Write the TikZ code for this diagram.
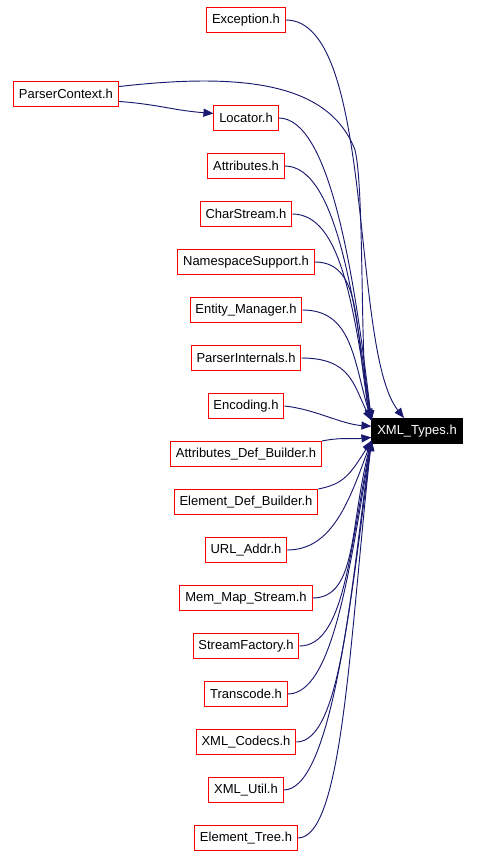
\documentclass[tikz,border=0pt]{standalone}
\usepackage{fontspec}
\setmainfont{Liberation Sans}
\usetikzlibrary{positioning,arrows.meta}
\definecolor{edgeblue}{HTML}{191970}
\tikzset{
  filebox/.style={draw=red, line width=0.75pt, fill=white, inner xsep=4pt, minimum height=18.75pt, font=\fontsize{9.75}{11}\selectfont},
  mainbox/.style={filebox, draw=black, fill=black, text=white},
  incl/.style={draw=edgeblue, line width=0.7pt, -{Triangle[length=7.5pt,width=6pt]}}
}

\begin{document}
\begin{tikzpicture}[x=0.75pt, y=-0.75pt, node distance=16.5pt]
  \useasboundingbox (0,0) rectangle (480,856);
  % left column
  \node[filebox] (exc) at (246,20) {Exception.h};
  \node[filebox, below=54pt of exc] (loc) {Locator.h};
  \node[filebox, left=71pt of loc, yshift=18pt] (pc) {ParserContext.h};
  \foreach \n/\p/\t in {att/loc/Attributes.h, cs/att/CharStream.h, ns/cs/NamespaceSupport.h,
      em/ns/Entity\_Manager.h, pi/em/ParserInternals.h, enc/pi/Encoding.h,
      adb/enc/Attributes\_Def\_Builder.h, edb/adb/Element\_Def\_Builder.h, url/edb/URL\_Addr.h,
      mms/url/Mem\_Map\_Stream.h, sf/mms/StreamFactory.h, tc/sf/Transcode.h,
      xc/tc/XML\_Codecs.h, xu/xc/XML\_Util.h, et/xu/Element\_Tree.h}
    \node[filebox, below=of \p] (\n) {\t};
  % the included header
  \node[mainbox] (xt) at (417,431) {XML\_Types.h};

  % edges
  \draw[incl] (pc.-8) .. controls +(40,3) and +(-40,-3) .. (loc.172);
  \draw[incl] (exc.east) .. controls +(90,0) and +(-54,-68) .. (xt.135);
  \draw[incl] (pc.8) .. controls +(130,-15) and +(-25,-65) .. (355,150)
                     .. controls +(10,40) and +(-12,-40) .. (xt.165);
  \foreach \n/\k in {loc/155, att/130, cs/110, ns/85, em/60, pi/35}
    \draw[incl] (\n.east) .. controls +(50,0) and +(-18,-\k) .. (xt.167);
  \draw[incl] (enc.east) .. controls +(30,3) and +(-30,-2) .. (xt.174);
  \draw[incl] (adb.north east) .. controls +(20,-4) and +(-20,2) .. (xt.188);
  \draw[incl] (edb.north east) .. controls +(25,-5) and +(-22,35) .. (xt.192);
  \foreach \n/\k in {url/60, mms/85, sf/110, tc/130, xc/155, xu/180, et/200}
    \draw[incl] (\n.east) .. controls +(45,0) and +(-22,\k) .. (xt.192);
\end{tikzpicture}
\end{document}
